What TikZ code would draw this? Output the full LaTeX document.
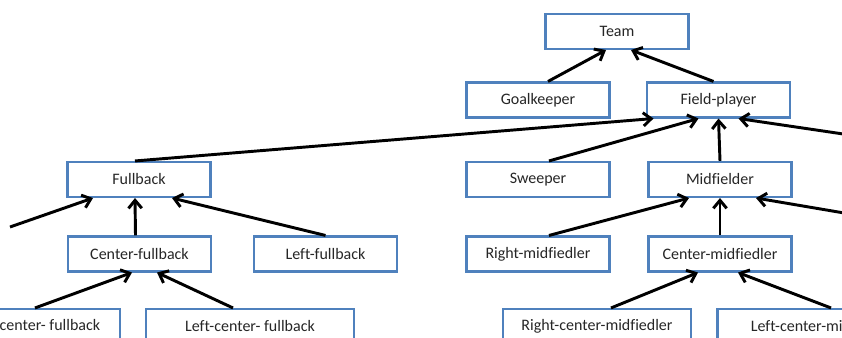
\documentclass[tikz,border=0pt]{standalone}
\usepackage{fontspec}
\setmainfont{Carlito}[Ligatures=NoCommon]
\usetikzlibrary{arrows.meta, calc}
\definecolor{boxblue}{RGB}{79,129,189}

\begin{document}
\begin{tikzpicture}[x=0.75pt, y=-0.75pt,
    box/.style={draw=boxblue, line width=1.8pt, fill=white, minimum width=107pt,
        minimum height=26pt, inner sep=0pt, text=black!85, font=\fontsize{12}{14}\selectfont},
    link/.style={draw=black, line width=2.2pt, -{Straight Barb[length=6pt, width=10pt, line width=2.2pt]}}]
    \useasboundingbox (0,0) rectangle (842,338);
    \clip (0,0) rectangle (842,338);

    % boxes
    \node[box] (team) at (617,31.5) {Team};
    \node[box] (goal) at (538,100) {Goalkeeper};
    \node[box] (field) at (718.5,100) {Field-player};
    \node[box] (fullback) at (139,179.5) {Fullback};
    \node[box] (sweeper) at (538,179.5) {Sweeper};
    \node[box] (mid) at (720,179.5) {Midfielder};
    \node[box] (cfb) at (139.5,254) {Center-fullback};
    \node[box] (lfb) at (325.5,254) {Left-fullback};
    \node[box] (rmid) at (538,254) {Right-midfiedler};
    \node[box] (cmid) at (720,254) {Center-midfiedler};
    \node[box, minimum width=133.5pt] (rcfb) at (31,326.5) {Right-center- fullback};
    \node[box, minimum width=156pt] (lcfb) at (250,326.5) {Left-center- fullback};
    \node[box, minimum width=141pt] (rcmid) at (597,326.5) {Right-center-midfiedler};
    \node[box, minimum width=157pt] (lcmid) at (822,326.5) {Left-center-midfiedler};

    % loose ends beyond the border
    \coordinate (offl) at (10,227);
    \coordinate (offr) at (850,135);
    \coordinate (offrm) at (850,214);

    % connectors
    \foreach \c/\cx/\p/\px in {goal/10/team/-11, field/-5/team/14,
        fullback/-4/field/-65, sweeper/11/field/-20, mid/0/field/0,
        cfb/-4/fullback/-4, lfb/0/fullback/33,
        rmid/11/mid/-31, cmid/0/mid/0,
        rcfb/4/cfb/-7.5, lcfb/-17/cfb/17.5,
        rcmid/14/cmid/-22, lcmid/9/cmid/18} {
        \draw[link] ($(\c.north)+(\cx,0)$) -- ($(\p.south)+(\px,0)$);
    }
    \draw[link] (offl) -- ($(fullback.south)+(-46,0)$);
    \draw[link] (offr) -- ($(field.south)+(20,0)$);
    \draw[link] (offrm) -- ($(mid.south)+(36,0)$);
\end{tikzpicture}
\end{document}
